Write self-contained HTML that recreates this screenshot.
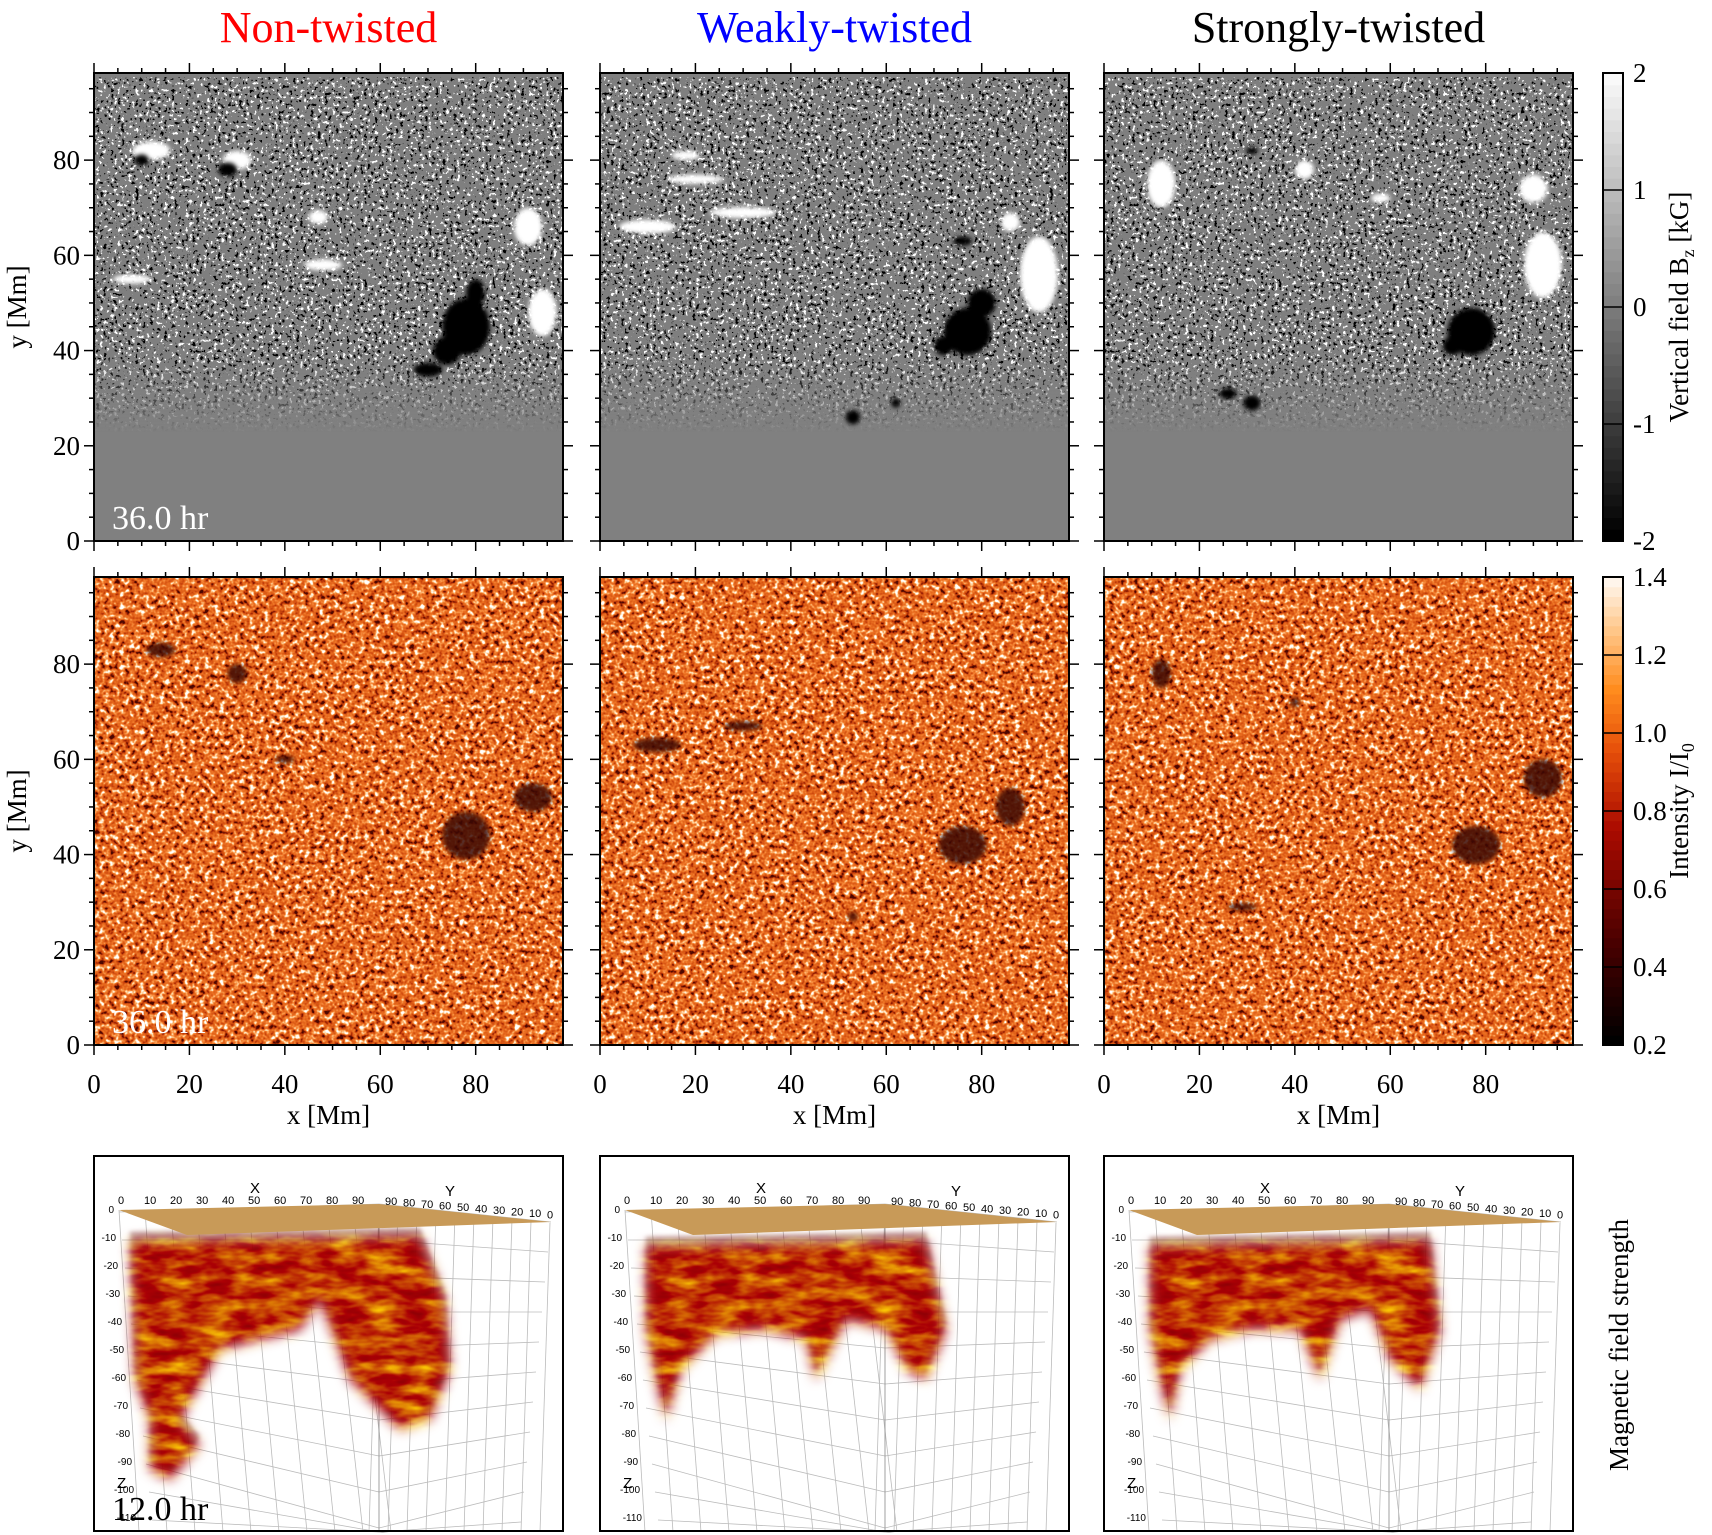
<!DOCTYPE html>
<html><head><meta charset="utf-8"><style>
html,body{margin:0;padding:0;background:#fff;overflow:hidden;width:1712px;height:1535px}
svg{display:block}
text{font-family:"Liberation Serif",serif;fill:#000}
filter{color-interpolation-filters:sRGB}
</style></head><body>
<svg id="fig" width="1712" height="1535" viewBox="0 0 1712 1535" xmlns="http://www.w3.org/2000/svg">
<defs>
<filter id="grayNoise" x="0" y="0" width="100%" height="100%" color-interpolation-filters="sRGB">
<feTurbulence type="fractalNoise" baseFrequency="0.28" numOctaves="2" seed="3"/>
<feColorMatrix type="matrix" values="2.5 0 0 0 -0.75 2.5 0 0 0 -0.75 2.5 0 0 0 -0.75 0 0 0 0 1"/>
<feComponentTransfer><feFuncR type="discrete" tableValues="0 0.25 0.5 0.5 0.5 0.5 0.5 0.5 0.5 0.5 0.5 0.5 0.5 0.5 0.75 1"/><feFuncG type="discrete" tableValues="0 0.25 0.5 0.5 0.5 0.5 0.5 0.5 0.5 0.5 0.5 0.5 0.5 0.5 0.75 1"/><feFuncB type="discrete" tableValues="0 0.25 0.5 0.5 0.5 0.5 0.5 0.5 0.5 0.5 0.5 0.5 0.5 0.5 0.75 1"/></feComponentTransfer>
</filter>
<filter id="orangeNoise" x="0" y="0" width="100%" height="100%" color-interpolation-filters="sRGB">
<feTurbulence type="fractalNoise" baseFrequency="0.2" numOctaves="2" seed="7"/>
<feColorMatrix type="matrix" values="2 0 0 0 -0.5 2 0 0 0 -0.5 2 0 0 0 -0.5 0 0 0 0 1"/>
<feComponentTransfer>
<feFuncR type="table" tableValues="0.3 0.65 0.82 0.88 0.93 0.98 1 1"/>
<feFuncG type="table" tableValues="0.03 0.15 0.3 0.38 0.45 0.6 0.85 1"/>
<feFuncB type="table" tableValues="0 0.02 0.06 0.1 0.14 0.3 0.65 1"/>
</feComponentTransfer>
</filter>
<filter id="blobTex" color-interpolation-filters="sRGB">
<feTurbulence type="fractalNoise" baseFrequency="0.03 0.08" numOctaves="3" seed="5" result="n"/>
<feColorMatrix in="n" type="matrix" values="0.6 0 0 0 0.45 1.5 0 0 0 -0.55 0 0 0 0 0.02 0 0 0 0 1" result="c"/>
<feGaussianBlur in="SourceGraphic" stdDeviation="6" result="b"/>
<feComposite in="c" in2="b" operator="in"/>
</filter>
<filter id="blur2"><feGaussianBlur stdDeviation="2"/></filter>
<linearGradient id="fadeMask" x1="0" y1="0" x2="0" y2="1">
<stop offset="0" stop-color="#fff"/><stop offset="0.75" stop-color="#fff"/><stop offset="0.95" stop-color="#000"/><stop offset="1" stop-color="#000"/>
</linearGradient>
</defs>
<g id="root"></g>
</svg>
<script>
// ---- data ----
const titles = ["Non-twisted","Weakly-twisted","Strongly-twisted"];
const titleColors = ["#ff0000","#0000ff","#000000"];
const xTicks = [0,20,40,60,80];
const yTicks = [0,20,40,60,80];
const bzTicks = [-2,-1,0,1,2];
const intTicks = [0.2,0.4,0.6,0.8,1.0,1.2,1.4];
const spots0 = [[78,45,5,6],[74,40,3,3],[80,52,2,3],[10,80,1.5,1.2],[28,78,2,1.5],[70,36,3,1.5]];
const spots1 = [[77,44,5,5],[80,50,3,3],[72,41,2,2],[53,26,1.5,1.5],[62,29,1,1],[76,63,2,1]];
const spots2 = [[77,44,5,5],[73,41,2,2],[26,31,1.8,1.2],[31,29,1.8,1.6],[31,82,1.2,0.8]];
const plage0 = [[94,48,3,5],[91,66,3,4],[12,82,4,2],[30,80,3,2],[48,58,4,1.2],[8,55,4,1],[47,68,2,1.5]];
const plage1 = [[92,56,4,8],[86,67,2,2],[10,66,6,1.5],[30,69,7,1.2],[20,76,6,1],[18,81,3,1]];
const plage2 = [[92,58,4,7],[90,74,3,3],[12,75,3,5],[42,78,2,2],[58,72,2,1]];
const idark0 = [[78,44,5,5],[92,52,4,3],[14,83,3,1.5],[30,78,2,2],[40,60,2,0.8]];
const idark1 = [[76,42,5,4],[86,50,3,4],[12,63,5,1.5],[30,67,4,1],[53,27,1,1]];
const idark2 = [[78,42,5,4],[92,56,4,4],[12,78,2,3],[29,29,3,0.8],[40,72,1,1]];
const spots=[spots0,spots1,spots2], plages=[plage0,plage1,plage2], idarks=[idark0,idark1,idark2];

const NS="http://www.w3.org/2000/svg";
const root=document.getElementById('root');
const colX=[94,600,1104], PW=469;
const rowY=[73,577], PH=468;
const XMAX=98.3;
function sx(c,v){return colX[c]+v/XMAX*PW;}
function sy(r,v){return rowY[r]+PH-v/XMAX*PH;}
function mk(tag,attrs,parent){const e=document.createElementNS(NS,tag);for(const k in attrs)e.setAttribute(k,attrs[k]);(parent||root).appendChild(e);return e;}
function txt(s,attrs,parent){const e=mk('text',attrs,parent);e.textContent=s;return e;}

for(let c=0;c<3;c++){
  const t=txt(titles[c],{x:colX[c]+PW/2,y:42,'text-anchor':'middle','font-size':44,style:'fill:'+titleColors[c]});
  
  
  const g0=mk('g',{});
  
  
  mk('rect',{x:colX[c],y:rowY[0],width:PW,height:PH,fill:'#808080'},g0);
  const cid='clip'+c+'0';
  const cp=mk('clipPath',{id:cid},g0);mk('rect',{x:colX[c],y:rowY[0],width:PW,height:PH},cp);
  const mid='mask'+c;
  const m=mk('mask',{id:mid},g0);mk('rect',{x:colX[c],y:rowY[0]+4,width:PW,height:PH*0.8,fill:'url(#fadeMask)'},m);
  mk('rect',{x:colX[c],y:rowY[0],width:PW,height:PH,filter:'url(#grayNoise)',mask:'url(#'+mid+')'},g0);
  const fg=mk('g',{'clip-path':'url(#'+cid+')',filter:'url(#blur2)'},g0);
  plages[c].forEach((p,i)=>{const e=mk('ellipse',{cx:sx(c,p[0]),cy:sy(0,p[1]),rx:p[2]/XMAX*PW,ry:p[3]/XMAX*PH,fill:'#fff'},fg);
    
    });
  spots[c].forEach((p,i)=>{const e=mk('ellipse',{cx:sx(c,p[0]),cy:sy(0,p[1]),rx:p[2]/XMAX*PW,ry:p[3]/XMAX*PH,fill:'#000'},fg);
    
    });
  const g1=mk('g',{});
  
  
  const cid1='clip'+c+'1';
  const cp1=mk('clipPath',{id:cid1},g1);mk('rect',{x:colX[c],y:rowY[1],width:PW,height:PH},cp1);
  mk('rect',{x:colX[c],y:rowY[1],width:PW,height:PH,fill:'#d86020'},g1);
  mk('rect',{x:colX[c],y:rowY[1],width:PW,height:PH,filter:'url(#orangeNoise)'},g1);
  const fg1=mk('g',{'clip-path':'url(#'+cid1+')',filter:'url(#blur2)'},g1);
  idarks[c].forEach((p,i)=>{const e=mk('ellipse',{cx:sx(c,p[0]),cy:sy(1,p[1]),rx:p[2]/XMAX*PW,ry:p[3]/XMAX*PH,fill:'#3a0804',opacity:0.85},fg1);
    
    });
  for(let r=0;r<2;r++){
    const fr=mk('rect',{x:colX[c],y:rowY[r],width:PW,height:PH,fill:'none',stroke:'#000','stroke-width':2});
    
    
    for(let v=0;v<=XMAX;v+=5){
      const L=(v%20===0)?10:5;const X=sx(c,v),Y=sy(r,v);
      mk('line',{x1:X,y1:rowY[r]+PH,x2:X,y2:rowY[r]+PH+L,stroke:'#000','stroke-width':1.5});
      mk('line',{x1:X,y1:rowY[r],x2:X,y2:rowY[r]-L,stroke:'#000','stroke-width':1.5});
      mk('line',{x1:colX[c],y1:Y,x2:colX[c]-L,y2:Y,stroke:'#000','stroke-width':1.5});
      mk('line',{x1:colX[c]+PW,y1:Y,x2:colX[c]+PW+L,y2:Y,stroke:'#000','stroke-width':1.5});
    }
  }
  xTicks.forEach(v=>{const e=txt(String(v),{x:sx(c,v),y:1093,'text-anchor':'middle','font-size':27});
    
    });
  const xl=txt('x [Mm]',{x:colX[c]+PW/2,y:1124,'text-anchor':'middle','font-size':27});
  
  
}
for(let r=0;r<2;r++){
  yTicks.forEach(v=>{const e=txt(String(v),{x:80,y:sy(r,v)+9,'text-anchor':'end','font-size':27});
    
    });
  const yl=txt('y [Mm]',{x:0,y:0,'text-anchor':'middle','font-size':27,transform:'translate(26,'+(rowY[r]+PH/2)+') rotate(-90)'});
  
  
  const tl=txt('36.0 hr',{x:112,y:rowY[r]+PH-12,'font-size':34,style:'fill:#fff'});
  
  
}
const CBX=1603,CBW=20;
function cbY(r,frac){return rowY[r]+PH-frac*PH;}
const gcb=mk('g',{});


for(let i=0;i<40;i++){const f=i/40;const v=Math.round(f*255);mk('rect',{x:CBX,y:cbY(0,f+1/40),width:CBW,height:PH/40+0.5,fill:'rgb('+v+','+v+','+v+')'},gcb);}
mk('rect',{x:CBX,y:rowY[0],width:CBW,height:PH,fill:'none',stroke:'#000','stroke-width':2},gcb);
bzTicks.forEach(v=>{const f=(v+2)/4;const Y=cbY(0,f);mk('line',{x1:CBX,y1:Y,x2:CBX+CBW,y2:Y,stroke:'#000','stroke-width':1.5},gcb);
  const e=txt(String(v),{x:1633,y:Y+9,'font-size':27},gcb);
  
  });
const bl=mk('text',{x:0,y:0,'text-anchor':'middle','font-size':27,transform:'translate(1688,307) rotate(-90)'});
bl.innerHTML='Vertical field B<tspan font-size="18" dy="6">z</tspan><tspan dy="-6"> [kG]</tspan>';


const gci=mk('g',{});


const stops=[[0,[0,0,0]],[0.2,[70,0,0]],[0.45,[170,10,0]],[0.62,[230,80,10]],[0.75,[255,140,30]],[0.88,[255,200,140]],[1,[255,255,255]]];
function cmap(f){for(let i=1;i<stops.length;i++){if(f<=stops[i][0]){const a=stops[i-1],b=stops[i];const t=(f-a[0])/(b[0]-a[0]);return a[1].map((q,k)=>Math.round(q+(b[1][k]-q)*t));}}return [255,255,255];}
for(let i=0;i<48;i++){const f=i/48;const cc=cmap(f);mk('rect',{x:CBX,y:cbY(1,f+1/48),width:CBW,height:PH/48+0.5,fill:'rgb('+cc.join(',')+')'},gci);}
mk('rect',{x:CBX,y:rowY[1],width:CBW,height:PH,fill:'none',stroke:'#000','stroke-width':2},gci);
intTicks.forEach(v=>{const f=(v-0.2)/1.2;const Y=cbY(1,f);mk('line',{x1:CBX,y1:Y,x2:CBX+CBW,y2:Y,stroke:'#000','stroke-width':1.5},gci);
  const e=txt(v.toFixed(1),{x:1633,y:Y+9,'font-size':27},gci);
  
  });
const il=mk('text',{x:0,y:0,'text-anchor':'middle','font-size':27,transform:'translate(1688,811) rotate(-90)'});
il.innerHTML='Intensity I/I<tspan font-size="18" dy="6">0</tspan>';


const ml=txt('Magnetic field strength',{x:0,y:0,'text-anchor':'middle','font-size':27,transform:'translate(1628,1345) rotate(-90)'});



const topNums=[0,10,20,30,40,50,60,70,80,90];
const depthNums=[0,-10,-20,-30,-40,-50,-60,-70,-80,-90,-100,-110];
const blobPaths=[
 "M130,1240 L420,1236 L445,1300 L450,1370 L430,1420 L400,1430 L370,1400 L350,1380 L320,1300 L300,1330 L220,1350 L180,1420 L200,1445 L170,1480 L150,1470 L150,1420 L135,1380 Z",
 "M140,1245 L420,1240 L440,1330 L420,1380 L400,1370 L380,1330 L340,1320 L310,1380 L300,1340 L260,1330 L210,1335 L175,1370 L160,1420 L150,1380 L140,1330 Z",
 "M140,1245 L420,1240 L430,1330 L410,1390 L380,1360 L360,1310 L330,1320 L310,1380 L290,1330 L240,1330 L200,1340 L170,1370 L160,1420 L150,1380 L140,1330 Z"];
const RY=1156,RH=377;
for(let c=0;c<3;c++){
  const dx=colX[c]-94;
  const g=mk('g',{transform:'translate('+dx+',0)'});
  
  
  const cid='clip3d'+c;const cp=mk('clipPath',{id:cid},g);mk('rect',{x:94,y:RY,width:PW,height:RH},cp);
  mk('rect',{x:94,y:RY,width:PW,height:RH,fill:'#fff'},g);
  const gg=mk('g',{'clip-path':'url(#'+cid+')',stroke:'#bbb','stroke-width':0.8,fill:'none'},g);
  for(let i=0;i<=11;i++){const y0=1212+i*28;mk('line',{x1:119+i*3,y1:y0,x2:379,y2:Math.min(1532,1204+i*36)},gg);mk('line',{x1:379,y1:Math.min(1532,1204+i*36),x2:551-i*3,y2:1222+i*30},gg);}
  for(let i=0;i<=9;i++){const x=119+i*26;mk('line',{x1:x,y1:1210,x2:x+20+i*2,y2:1532},gg);const x2=379+i*19;mk('line',{x1:x2,y1:1205+i*2,x2:x2-10,y2:1532},gg);}
  mk('line',{x1:379,y1:1204,x2:379,y2:1532,stroke:'#888'},gg);
  const bc=mk('g',{'clip-path':'url(#'+cid+')'},g);
  mk('path',{d:blobPaths[c],fill:'#5a1a10',opacity:0.35,filter:'url(#blur2)',transform:'translate(0,-8)'},bc);
  const bp=mk('path',{d:blobPaths[c],fill:'#c03010',filter:'url(#blobTex)'},bc);
  
  
  const sl=mk('polygon',{points:'119,1210 379,1204 551,1222 187,1235',fill:'#c89a58'},g);
  
  
  topNums.forEach((v,i)=>{const e=txt(String(v),{x:118+i*26,y:1204,'font-size':11,style:'font-family:Liberation Sans'},g);
    
    });
  topNums.slice().reverse().forEach((v,i)=>{const e=txt(String(v),{x:385+i*18,y:1205+i*1.5,'font-size':11,style:'font-family:Liberation Sans'},g);
    
    });
  depthNums.forEach((v,i)=>{const e=txt(String(v),{x:114+i*2,y:1213+i*28,'font-size':10,'text-anchor':'end',style:'font-family:Liberation Sans'},g);
    
    });
  txt('X',{x:250,y:1193,'font-size':15,style:'font-family:Liberation Sans'},g);
  txt('Y',{x:445,y:1196,'font-size':15,style:'font-family:Liberation Sans'},g);
  txt('Z',{x:117,y:1488,'font-size':15,style:'font-family:Liberation Sans'},g);
  const fr=mk('rect',{x:94,y:RY,width:PW,height:RH-2,fill:'none',stroke:'#000','stroke-width':2},g);
  
  
}
const t3=txt('12.0 hr',{x:112,y:1520,'font-size':34});


</script>
</body></html>
